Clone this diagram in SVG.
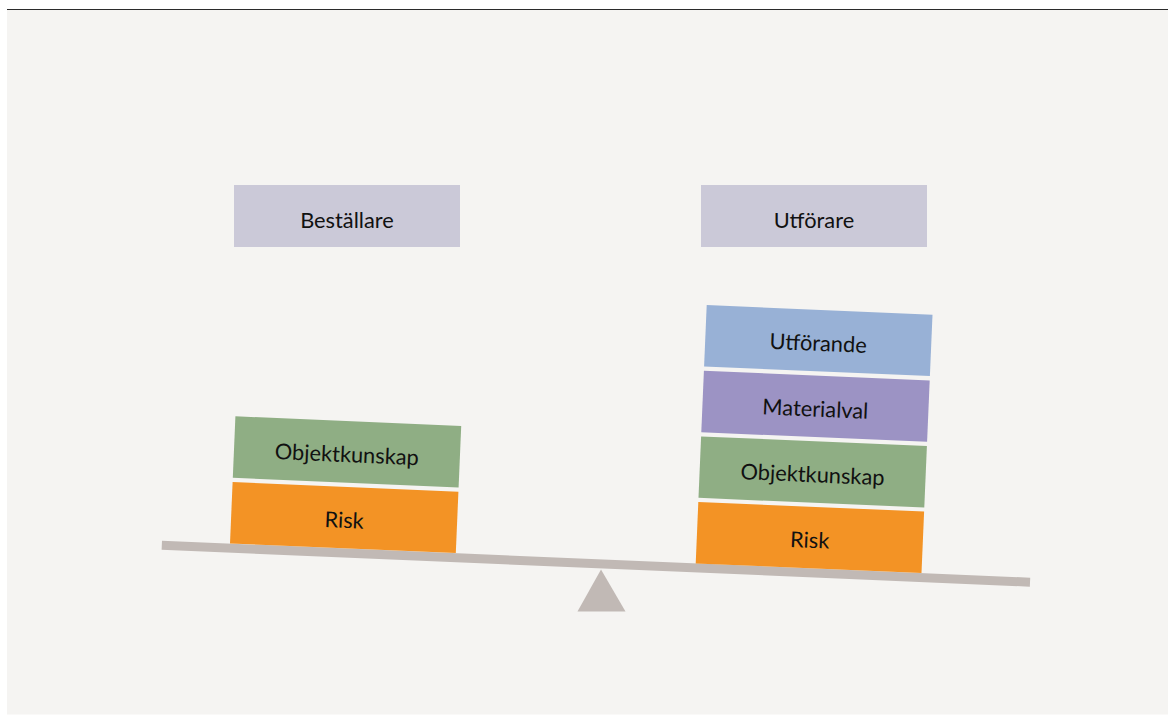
<svg xmlns="http://www.w3.org/2000/svg" width="1168" height="715" viewBox="0 0 1168 715">
  <style>
    .lbl { font-family: Lato, "Noto Sans", "Liberation Sans", sans-serif; font-size: 21.8px; fill: #111; text-anchor: middle; dominant-baseline: central; }
    .hdr { fill: #cbc9d8; }
    .risk { fill: #f39325; }
    .obj { fill: #8fae84; }
    .mat { fill: #9c93c4; }
    .utf { fill: #98b1d6; }
    .scale { fill: #c1b9b5; }
  </style>
  <rect x="0" y="0" width="1168" height="715" fill="#ffffff"/>
  <rect x="7" y="9.5" width="1161" height="705" fill="#f5f4f2"/>
  <line x1="7" y1="9.5" x2="1168" y2="9.5" stroke="#2b2b2b" stroke-width="1.2"/>

  <g id="bestallare">
    <rect class="hdr" x="234" y="185" width="226" height="62"/>
    <text class="lbl" x="347" y="219.5">Beställare</text>
  </g>
  <g id="utforare">
    <rect class="hdr" x="701" y="185" width="226" height="62"/>
    <text class="lbl" x="814" y="219.5">Utförare</text>
  </g>

  <g id="connectors">
    <g id="beam" transform="translate(162,540.7) rotate(2.44)">
      <rect class="scale" x="0" y="0" width="869" height="9"/>
    </g>
    <polygon id="fulcrum" class="scale" points="601,569.5 577.5,611.5 625.5,611.5"/>
  </g>

  <g transform="translate(230,543.5) rotate(2.44)">
    <g id="left-risk">
      <rect class="risk" x="0" y="-61.5" width="226" height="61.5"/>
      <text class="lbl" x="113" y="-29">Risk</text>
    </g>
    <g id="left-objektkunskap">
      <rect class="obj" x="0" y="-127.3" width="226" height="61.5"/>
      <text class="lbl" x="113" y="-94.8">Objektkunskap</text>
    </g>
  </g>

  <g transform="translate(695.7,563.4) rotate(2.44)">
    <g id="right-risk">
      <rect class="risk" x="0" y="-61.5" width="226" height="61.5"/>
      <text class="lbl" x="113" y="-29">Risk</text>
    </g>
    <g id="right-objektkunskap">
      <rect class="obj" x="0" y="-127.1" width="226" height="61.5"/>
      <text class="lbl" x="113" y="-94.6">Objektkunskap</text>
    </g>
    <g id="right-materialval">
      <rect class="mat" x="0" y="-192.8" width="226" height="61.5"/>
      <text class="lbl" x="113" y="-160.3">Materialval</text>
    </g>
    <g id="right-utforande">
      <rect class="utf" x="0" y="-258.6" width="226" height="61.5"/>
      <text class="lbl" x="113" y="-226.1">Utförande</text>
    </g>
  </g>
</svg>
